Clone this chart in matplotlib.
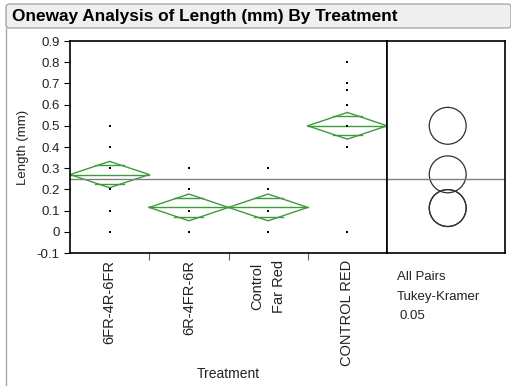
import numpy as np
import matplotlib
matplotlib.use('Agg')
import matplotlib.pyplot as plt
from matplotlib.patches import Circle, FancyBboxPatch
from matplotlib.lines import Line2D

plt.rcParams['font.family'] = ['Liberation Sans', 'DejaVu Sans']

# data
treatments = ['6FR-4R-6FR', '6R-4FR-6R', 'Control\nFar Red', 'CONTROL RED']
points = [
    [0.5, 0.4, 0.3, 0.2, 0.1, 0.0],
    [0.3, 0.2, 0.1, 0.0],
    [0.3, 0.2, 0.1, 0.0],
    [0.8, 0.7, 0.67, 0.6, 0.5, 0.4, 0.0],
]
means = [0.27, 0.115, 0.115, 0.50]
ci_half = [0.062, 0.063, 0.063, 0.063]
grand_mean = 0.25
circle_centers = [0.50, 0.271, 0.112, 0.112]
circle_radius = 0.087

W, H = 511, 386
fig = plt.figure(figsize=(W / 100, H / 100), dpi=100)

# title band
band = FancyBboxPatch((6 / W, 1 - 28 / H), (W - 6) / W, 24 / H,
                      boxstyle='round,pad=0,rounding_size=0.008',
                      transform=fig.transFigure, facecolor='#efefef',
                      edgecolor='#a8a8a8', linewidth=1)
fig.add_artist(band)
fig.add_artist(Line2D([6 / W, 6 / W], [0, 1 - 28 / H], transform=fig.transFigure,
                      color='#a8a8a8', linewidth=1))
fig.text(12 / W, 1 - 16 / H, 'Oneway Analysis of Length (mm) By Treatment',
         fontsize=12.4, fontweight='bold', va='center', ha='left')

left, right, right2, top, bottom = 70, 387, 505, 41, 253
ax = fig.add_axes([left / W, 1 - bottom / H, (right - left) / W, (bottom - top) / H])
ax2 = fig.add_axes([right / W, 1 - bottom / H, (right2 - right) / W, (bottom - top) / H])

green = '#3f9a3f'
n = len(treatments)
for i in range(n):
    x0, x1 = i, i + 1
    xc = i + 0.5
    m, c = means[i], ci_half[i]
    ax.plot([x0, xc, x1, xc, x0], [m, m + c, m, m - c, m], color=green, lw=1)
    ax.plot([x0, x1], [m, m], color=green, lw=1)
    h = c / np.sqrt(2)
    hw = 0.5 * (1 - h / c) * 1.25
    for yy in (m + h, m - h):
        ax.plot([xc - hw, xc + hw], [yy, yy], color=green, lw=1)
    ax.plot([xc] * len(points[i]), points[i], 's', color='black', ms=1.8, mew=0)

ax.axhline(grand_mean, color='#808080', lw=1)
ax.set_xlim(0, n)
ax.set_ylim(-0.1, 0.9)
ax.set_yticks(np.arange(-0.1, 0.91, 0.1))
ax.set_yticklabels(['-0.1', '0', '0.1', '0.2', '0.3', '0.4', '0.5', '0.6', '0.7', '0.8', '0.9'],
                   fontsize=9.5, color='#222222')
ax.set_xticks([1, 2, 3])
ax.set_xticklabels([])
ax.tick_params(axis='x', length=5, color='#606060')
ax.tick_params(axis='y', length=4)
ax.set_xticks(np.arange(n) + 0.5, minor=True)
ax.set_xticklabels(treatments, minor=True, rotation=90, fontsize=10.5, va='top', ha='center',
                   linespacing=1.7, color='#222222')
ax.tick_params(axis='x', which='minor', length=0, pad=5)
ax.set_ylabel('Length (mm)', fontsize=9.5, color='#222222')
ax.yaxis.set_label_coords(-0.128, 0.5)
for s in ax.spines.values():
    s.set_linewidth(1.2)
fig.text(228 / W, 1 - 374 / H, 'Treatment', fontsize=10, ha='center', va='center',
         color='#222222')

# comparison circles
ax2.set_ylim(-0.1, 0.9)
ax2.set_xlim(0, (right2 - right) / (bottom - top))
for cy in circle_centers:
    ax2.add_patch(Circle((60.7 / (bottom - top), cy), circle_radius, fill=False,
                         edgecolor='#303030', lw=0.9))
ax2.axhline(grand_mean, color='#808080', lw=1)
ax2.set_xticks([])
ax2.set_yticks([])
for s in ax2.spines.values():
    s.set_linewidth(1.2)

fig.text(397 / W, 1 - 277 / H, 'All Pairs', fontsize=9.5, va='center', color='#222222')
fig.text(397 / W, 1 - 297 / H, 'Tukey-Kramer', fontsize=9.5, va='center', color='#222222')
fig.text(399 / W, 1 - 316 / H, '0.05', fontsize=9.5, va='center', color='#222222')

fig.savefig('out.png', dpi=100)
